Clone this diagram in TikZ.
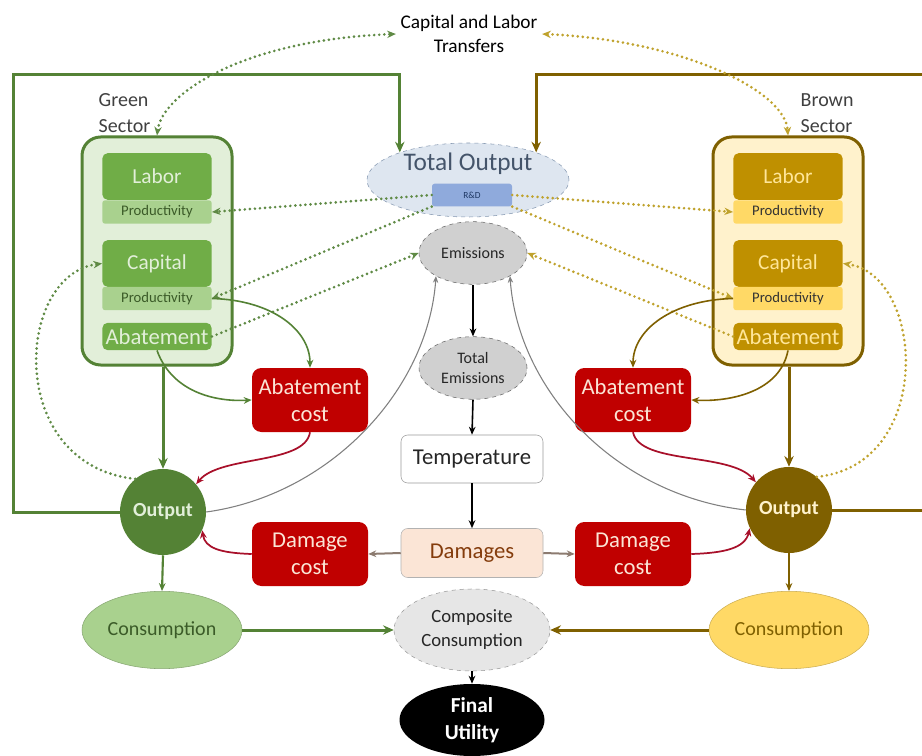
\documentclass[tikz,border=0pt]{standalone}
\usepackage{fontspec}
\setmainfont{Carlito}
\usetikzlibrary{shapes.geometric,arrows.meta}
\definecolor{gD}{HTML}{548235}
\definecolor{gM}{HTML}{70AD47}
\definecolor{gL}{HTML}{A9D18E}
\definecolor{gP}{HTML}{E2EFD9}
\definecolor{gT}{HTML}{3B5B28}
\definecolor{bD}{HTML}{7F6000}
\definecolor{bM}{HTML}{BF9000}
\definecolor{bL}{HTML}{FFD966}
\definecolor{bP}{HTML}{FFF2CC}
\definecolor{bT}{HTML}{FFE699}
\definecolor{cRed}{HTML}{C00000}
\definecolor{cRedT}{HTML}{FBE5D6}
\definecolor{cRedL}{HTML}{A8102A}
\definecolor{dotG}{HTML}{5F8A45}
\definecolor{dotB}{HTML}{BFA22C}
\definecolor{toF}{HTML}{DEE6F0}
\definecolor{toB}{HTML}{8497B0}
\definecolor{toT}{HTML}{44546A}
\definecolor{rdF}{HTML}{8FAADC}
\definecolor{rdT}{HTML}{1F3864}
\definecolor{emF}{HTML}{D0D0D0}
\definecolor{damF}{HTML}{FBE5D6}
\definecolor{damT}{HTML}{843C0C}
\definecolor{damA}{HTML}{8C7B70}
\definecolor{cmpF}{HTML}{E6E6E6}
\newcommand\fsz[2]{\fontsize{#1}{#2}\selectfont}
\tikzset{
  secbox/.style={draw, line width=2.25pt, rounded corners=14pt, minimum width=112.5pt, minimum height=171pt, inner sep=0pt},
  inbox/.style={rounded corners=4pt, minimum width=82pt, inner sep=0pt, font=\fsz{16}{18}},
  prodbox/.style={rounded corners=2pt, minimum width=82pt, minimum height=17.5pt, inner sep=0pt, font=\fsz{11}{12}},
  redbox/.style={fill=cRed, rounded corners=7pt, minimum width=87pt, minimum height=48pt, text=cRedT, align=center, font=\fsz{17}{20}, inner sep=0pt},
  ell/.style={ellipse, inner sep=0pt, align=center},
  dotg/.style={draw=dotG, line width=2.2pt, dash pattern=on 0pt off 3.8pt, line cap=round, -{Stealth[length=6.5pt,width=5.5pt]}},
  dotb/.style={draw=dotB, line width=2.2pt, dash pattern=on 0pt off 3.8pt, line cap=round, -{Stealth[length=6.5pt,width=5.5pt]}},
  loopg/.style={draw=gD, line width=2.25pt, -{Stealth[length=8pt,width=7pt]}},
  loopb/.style={draw=bD, line width=2.25pt, -{Stealth[length=8pt,width=7pt]}},
  thing/.style={draw=gD, line width=1.2pt, -{Stealth[length=6pt,width=5pt]}},
  thinb/.style={draw=bD, line width=1.2pt, -{Stealth[length=6pt,width=5pt]}},
  redc/.style={draw=cRedL, line width=1.3pt, -{Stealth[length=6pt,width=5pt]}},
  grayc/.style={draw=gray, line width=0.8pt, -{Stealth[length=5pt,width=4pt]}},
  blk/.style={draw=black, line width=1.2pt, -{Stealth[length=6pt,width=5pt]}},
  dama/.style={draw=damA, line width=1.5pt, -{Stealth[length=6pt,width=5pt]}}
}
\begin{document}
\begin{tikzpicture}[x=0.75pt,y=-0.75pt]
\useasboundingbox[fill=white] (0,0) rectangle (922,756);

% title
\node[align=center, font=\fsz{14.5}{18}] (tr) at (469,34) {Capital and Labor\\Transfers};
\node[align=left, anchor=west, font=\fsz{15}{20}, text=black!75] (gsl) at (94,113) {Green\\Sector};
\node[align=left, anchor=west, font=\fsz{15}{20}, text=black!75] (bsl) at (796,113) {Brown\\Sector};

% green sector
\node[secbox, draw=gD, fill=gP] (gbox) at (157,251) {};
\node[inbox, fill=gM, text=gP, minimum height=35pt] (glab) at (157,176.5) {Labor};
\node[prodbox, fill=gL, text=gT] (gpr1) at (157,212) {Productivity};
\node[inbox, fill=gM, text=gP, minimum height=35pt] (gcap) at (157,263.5) {Capital};
\node[prodbox, fill=gL, text=gT] (gpr2) at (157,298.5) {Productivity};
\node[inbox, fill=gM, text=gP, minimum height=20.5pt, font=\fsz{17}{18}] (gab) at (157,336.5) {Abatement};

% brown sector
\node[secbox, draw=bD, fill=bP] (bbox) at (788,251) {};
\node[inbox, fill=bM, text=bT, minimum height=35pt] (blab) at (788,176.5) {Labor};
\node[prodbox, fill=bL, text=black!80] (bpr1) at (788,212) {Productivity};
\node[inbox, fill=bM, text=bT, minimum height=35pt] (bcap) at (788,263.5) {Capital};
\node[prodbox, fill=bL, text=black!80] (bpr2) at (788,298.5) {Productivity};
\node[inbox, fill=bM, text=bT, minimum height=20.5pt, font=\fsz{17}{18}] (bab) at (788,336.5) {Abatement};

% centre column
\node[ell, fill=toF, draw=toB, dashed, minimum width=151.5pt, minimum height=55.5pt] (to) at (468,180) {};
\node[font=\fsz{19}{20}, text=toT] (tot) at (468,164) {Total Output};
\node[fill=rdF, rounded corners=2pt, minimum width=60pt, minimum height=17pt, inner sep=0pt, font=\fsz{7}{8}, text=rdT] (rd) at (472,195) {R\&D};
\node[ell, fill=emF, draw=black!60, dashed, minimum width=81pt, minimum height=47pt, font=\fsz{12}{14}, text=black!85] (em) at (473,253) {Emissions};
\node[ell, fill=emF, draw=black!60, dashed, minimum width=81pt, minimum height=47pt, font=\fsz{12}{15}, text=black!85] (tem) at (473,368) {Total\\Emissions};
\node[draw=black!40, rounded corners=5pt, fill=white, minimum width=106.5pt, minimum height=36pt, inner sep=0pt, font=\fsz{17}{18}, text=black!85] (temp) at (472,459) {Temperature};
\node[draw=black!30, rounded corners=5pt, fill=damF, minimum width=106.5pt, minimum height=36.75pt, inner sep=0pt, font=\fsz{17}{18}, text=damT] (dam) at (472,553) {Damages};

% red boxes
\node[redbox] (gabc) at (310,400) {Abatement\\cost};
\node[redbox] (babc) at (633,400) {Abatement\\cost};
\node[redbox] (gdc) at (310,554) {Damage\\cost};
\node[redbox] (bdc) at (633,554) {Damage\\cost};

% outputs
\node[circle, fill=gD, minimum size=64.5pt, inner sep=0pt, text=gP, font=\bfseries\fsz{15}{16}] (go) at (163,512) {Output};
\node[circle, fill=bD, minimum size=64.5pt, inner sep=0pt, text=bP, font=\bfseries\fsz{15}{16}] (bo) at (789,510) {Output};

% consumption
\node[ell, fill=gL, draw=gL!80!black, minimum width=120pt, minimum height=58pt, font=\fsz{15}{16}, text=gT] (gcons) at (162,630) {Consumption};
\node[ell, fill=bL, draw=bL!80!black, minimum width=120pt, minimum height=58pt, font=\fsz{15}{16}, text=bD] (bcons) at (789,630) {Consumption};
\node[ell, fill=cmpF, draw=black!40, dashed, minimum width=117pt, minimum height=61.5pt, font=\fsz{14}{18}, text=black!85] (comp) at (472,630) {Composite\\Consumption};
\node[ell, fill=black, minimum width=108.75pt, minimum height=54pt, font=\bfseries\fsz{16}{20}, text=white] (fu) at (472,720) {Final\\Utility};

% loops to Total Output
\draw[loopg] (go.west) -- (13,512) -- (13,75) -| (to.158);
\draw[loopb] (bo.east) -- (935,510) -- (935,75) -| (to.22);

% transfers
\draw[dotg, {Stealth[length=6.5pt,width=5.5pt]}-{Stealth[length=6.5pt,width=5.5pt]}] (gbox.north) .. controls (162,95) and (240,40) .. (tr.west);
\draw[dotb, {Stealth[length=6.5pt,width=5.5pt]}-{Stealth[length=6.5pt,width=5.5pt]}] (tr.east) .. controls (680,40) and (785,90) .. (bbox.north);

% R&D to productivities
\draw[dotg] (rd.west) -- (gpr1.east);
\draw[dotg] (rd.south west) -- (gpr2.east);
\draw[dotb] (rd.east) -- (bpr1.west);
\draw[dotb] (rd.south east) -- (bpr2.west);

% abatement to emissions
\draw[dotg] (gab.east) -- (em.west);
\draw[dotb] (bab.west) -- (em.east);

% output to capital
\draw[dotg] (go.130) .. controls (5,465) and (15,275) .. (gcap.west);
\draw[dotb] (bo.50) .. controls (935,465) and (925,275) .. (bcap.east);

% sector to outputs
\draw[loopg] (go.north |- gbox.south) -- (go.north);
\draw[loopb] (bo.north |- bbox.south) -- (bo.north);

% productivity / abatement to abatement cost
\draw[thing] (gpr2.east) .. controls (272,300) and (310,330) .. (gabc.north);
\draw[thing] (gab.south) .. controls (172,392) and (215,402) .. (gabc.west);
\draw[thinb] (bpr2.west) .. controls (672,300) and (633,330) .. (babc.north);
\draw[thinb] (bab.south) .. controls (780,392) and (730,402) .. (babc.east);

% costs to outputs
\draw[redc] (gabc.south) .. controls (305,465) and (220,455) .. (go.40);
\draw[redc] (babc.south) .. controls (640,465) and (730,452) .. (bo.140);
\draw[redc] (gdc.west) .. controls (220,553) and (205,548) .. (go.-25);
\draw[redc] (bdc.east) .. controls (725,553) and (745,548) .. (bo.205);

% outputs to emissions
\draw[grayc] (go.east) .. controls (330,495) and (428,390) .. (em.212);
\draw[grayc] (bo.west) .. controls (615,495) and (518,390) .. (em.328);

% centre chain
\draw[blk] (em.south) -- (tem.north);
\draw[blk] (tem.south) -- (temp.north);
\draw[blk] (temp.south) -- (dam.north);
\draw[dama] (dam.west) -- (gdc.east);
\draw[dama] (dam.east) -- (bdc.west);

% consumption
\draw[thing, line width=1.6pt] (go.south) -- (gcons.north);
\draw[thinb, line width=1.6pt] (bo.south) -- (bcons.north);
\draw[loopg] (gcons.east) -- (comp.west);
\draw[loopb] (bcons.west) -- (comp.east);
\draw[blk] (comp.south) -- (fu.north);
\end{tikzpicture}
\end{document}
